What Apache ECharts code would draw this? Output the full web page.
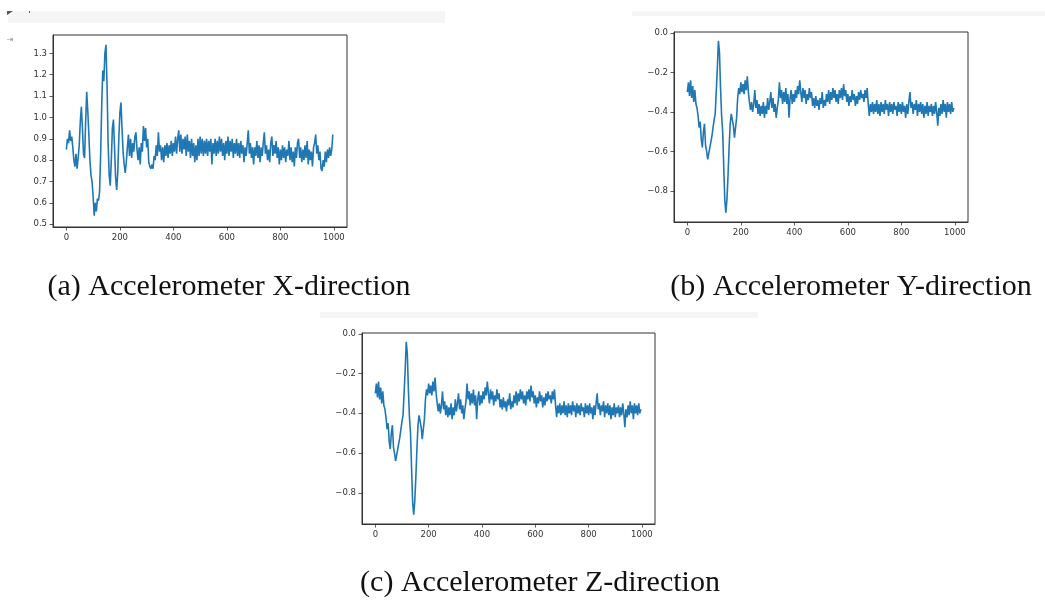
<!DOCTYPE html>
<html>
<head>
<meta charset="utf-8">
<script src="https://cdn.jsdelivr.net/npm/echarts@6/dist/echarts.min.js"></script>
<style>
html,body{margin:0;padding:0;background:#fff;}
#chart{width:1045px;height:603px;}
</style>
</head>
<body>
<div id="chart"></div>
<script>
// ---- data (one value every 4 samples) ----
const SAMPLE_STEP = 4;
const xTickLabels = [0, 200, 400, 600, 800, 1000];
const accXTickLabels = [0.5, 0.6, 0.7, 0.8, 0.9, 1.0, 1.1, 1.2, 1.3];
const accYTickLabels = [0.0, -0.2, -0.4, -0.6, -0.8];
const captions = ['(a) Accelerometer X-direction', '(b) Accelerometer Y-direction', '(c) Accelerometer Z-direction'];

const accX = [
 0.85,0.90,0.88,0.94,0.89,0.91,0.86,0.80,0.77,0.83,
 0.76,0.81,0.87,0.98,1.05,0.95,0.83,0.81,0.98,1.12,
 1.03,0.92,0.80,0.73,0.70,0.63,0.54,0.60,0.56,0.62,
 0.61,0.65,0.82,1.05,1.22,1.17,1.30,1.34,1.15,0.88,
 0.73,0.68,0.80,0.95,0.99,0.86,0.72,0.66,0.74,0.90,
 1.02,1.07,0.95,0.84,0.78,0.74,0.79,0.86,0.92,0.82,
 0.90,0.81,0.88,0.84,0.91,0.93,0.85,0.80,0.86,0.78,
 0.88,0.84,0.96,0.89,0.95,0.86,0.90,0.79,0.77,0.76,
 0.78,0.76,0.82,0.80,0.87,0.82,0.93,0.84,0.87,0.80,
 0.86,0.79,0.87,0.82,0.88,0.81,0.87,0.83,0.89,0.82,
 0.88,0.84,0.91,0.83,0.90,0.94,0.84,0.92,0.83,0.90,
 0.85,0.91,0.82,0.92,0.84,0.89,0.81,0.90,0.82,0.88,
 0.79,0.87,0.80,0.90,0.82,0.91,0.83,0.90,0.82,0.89,
 0.83,0.90,0.82,0.89,0.84,0.90,0.78,0.88,0.83,0.90,
 0.82,0.89,0.83,0.91,0.84,0.90,0.82,0.88,0.80,0.89,
 0.83,0.91,0.82,0.89,0.84,0.90,0.81,0.88,0.83,0.90,
 0.82,0.88,0.81,0.89,0.83,0.87,0.79,0.86,0.82,0.88,
 0.94,0.83,0.88,0.81,0.86,0.78,0.86,0.82,0.89,0.81,
 0.87,0.79,0.86,0.82,0.88,0.93,0.83,0.87,0.80,0.85,
 0.79,0.88,0.91,0.82,0.87,0.83,0.89,0.81,0.86,0.78,
 0.85,0.80,0.87,0.81,0.86,0.79,0.85,0.82,0.89,0.80,
 0.86,0.79,0.84,0.77,0.86,0.81,0.88,0.90,0.81,0.86,
 0.79,0.85,0.80,0.87,0.81,0.89,0.78,0.85,0.80,0.84,
 0.77,0.86,0.88,0.92,0.83,0.87,0.80,0.84,0.76,0.75,
 0.80,0.77,0.84,0.79,0.85,0.81,0.86,0.82,0.85,0.92
];

const accY = [
 -0.30,-0.25,-0.32,-0.24,-0.33,-0.27,-0.35,-0.29,-0.36,-0.38,
 -0.42,-0.48,-0.45,-0.54,-0.58,-0.50,-0.46,-0.57,-0.60,-0.64,
 -0.61,-0.58,-0.55,-0.52,-0.48,-0.44,-0.41,-0.40,-0.18,-0.04,
 -0.10,-0.28,-0.42,-0.50,-0.68,-0.85,-0.91,-0.84,-0.72,-0.58,
 -0.46,-0.41,-0.40,-0.47,-0.53,-0.52,-0.43,-0.33,-0.28,-0.31,
 -0.25,-0.30,-0.26,-0.31,-0.24,-0.29,-0.22,-0.30,-0.35,-0.39,
 -0.35,-0.40,-0.36,-0.29,-0.38,-0.34,-0.41,-0.36,-0.42,-0.37,
 -0.41,-0.35,-0.43,-0.37,-0.41,-0.33,-0.39,-0.35,-0.30,-0.38,
 -0.33,-0.40,-0.36,-0.43,-0.38,-0.34,-0.25,-0.33,-0.29,-0.36,
 -0.30,-0.35,-0.28,-0.36,-0.31,-0.43,-0.33,-0.29,-0.36,-0.31,
 -0.35,-0.29,-0.33,-0.27,-0.31,-0.24,-0.30,-0.35,-0.28,-0.33,
 -0.29,-0.36,-0.31,-0.34,-0.28,-0.33,-0.30,-0.37,-0.33,-0.38,
 -0.32,-0.37,-0.34,-0.39,-0.33,-0.36,-0.30,-0.38,-0.34,-0.37,
 -0.31,-0.35,-0.29,-0.36,-0.30,-0.34,-0.28,-0.33,-0.29,-0.35,
 -0.31,-0.36,-0.29,-0.33,-0.28,-0.34,-0.26,-0.32,-0.29,-0.35,
 -0.31,-0.37,-0.32,-0.35,-0.29,-0.34,-0.31,-0.37,-0.32,-0.36,
 -0.30,-0.34,-0.29,-0.33,-0.31,-0.35,-0.29,-0.33,-0.28,-0.36,
 -0.42,-0.36,-0.40,-0.35,-0.41,-0.36,-0.40,-0.34,-0.41,-0.36,
 -0.42,-0.35,-0.40,-0.36,-0.41,-0.34,-0.39,-0.36,-0.42,-0.35,
 -0.40,-0.36,-0.41,-0.35,-0.39,-0.37,-0.42,-0.35,-0.40,-0.36,
 -0.41,-0.35,-0.40,-0.37,-0.43,-0.36,-0.41,-0.35,-0.30,-0.38,
 -0.35,-0.41,-0.36,-0.39,-0.34,-0.42,-0.36,-0.40,-0.35,-0.41,
 -0.36,-0.43,-0.37,-0.41,-0.35,-0.42,-0.37,-0.40,-0.36,-0.42,
 -0.37,-0.41,-0.35,-0.40,-0.47,-0.38,-0.42,-0.36,-0.41,-0.34,
 -0.40,-0.36,-0.43,-0.35,-0.40,-0.36,-0.41,-0.35,-0.40,-0.38
];

// Z panel in the reference shows the same trace as the Y panel
const accZ = accY;

// ---- chart ----
const LINE = '#1f77b4';
const INK = '#333';
const toPairs = arr => arr.map((v, i) => [i * SAMPLE_STEP, v]);
const fmtY = v => (v < 0 ? '\u2212' + Math.abs(v).toFixed(1) : v.toFixed(1));

const grids = [
  {left: 53, top: 35, width: 294, height: 192},
  {left: 674, top: 32, width: 294, height: 190},
  {left: 362, top: 333, width: 293, height: 191}
].map(g => Object.assign({show: true, borderColor: INK, borderWidth: 1, backgroundColor: '#fff', containLabel: false}, g));

const axisCommon = {
  axisLine: {show: true, onZero: false, lineStyle: {color: INK, width: 1}},
  axisTick: {show: true, inside: false, length: 3.5, lineStyle: {color: INK, width: 0.8}},
  splitLine: {show: false},
};
const labelCommon = {color: INK, fontSize: 8.5, fontFamily: 'DejaVu Sans'};

const xAxes = [0, 1, 2].map(i => Object.assign({}, axisCommon, {
  gridIndex: i, type: 'value', min: -50, max: 1049, position: 'bottom',
  axisTick: Object.assign({}, axisCommon.axisTick, {customValues: xTickLabels}),
  axisLabel: Object.assign({}, labelCommon, {margin: 6, customValues: xTickLabels, formatter: v => String(v)})
}));

const yRanges = [[0.487, 1.386], [-0.957, 0.004], [-0.957, 0.004]];
const yTicks = [accXTickLabels, accYTickLabels, accYTickLabels];
const yAxes = [0, 1, 2].map(i => Object.assign({}, axisCommon, {
  gridIndex: i, type: 'value', min: yRanges[i][0], max: yRanges[i][1], position: 'left',
  axisTick: Object.assign({}, axisCommon.axisTick, {customValues: yTicks[i]}),
  axisLabel: Object.assign({}, labelCommon, {margin: 6, customValues: yTicks[i], formatter: fmtY})
}));

const seriesData = [accX, accY, accZ];
const series = seriesData.map((arr, i) => ({
  type: 'line', xAxisIndex: i, yAxisIndex: i, data: toPairs(arr),
  showSymbol: false, symbol: 'none', animation: false,
  lineStyle: {color: LINE, width: 1.6}
}));

const captionPos = [[229, 287], [851, 287], [540, 583]];
const graphics = [
  {type: 'rect', shape: {x: 8, y: 11, width: 437, height: 12}, style: {fill: '#f5f5f5'}, silent: true},
  {type: 'rect', shape: {x: 632, y: 11, width: 413, height: 5}, style: {fill: '#f5f5f5'}, silent: true},
  {type: 'rect', shape: {x: 320, y: 312, width: 438, height: 6}, style: {fill: '#f5f5f5'}, silent: true},
  {type: 'polygon', shape: {points: [[7, 11], [13, 11], [7, 15]]}, style: {fill: '#555'}, silent: true},
  {type: 'rect', shape: {x: 29, y: 11, width: 1, height: 2}, style: {fill: '#666'}, silent: true},
  {type: 'text', style: {x: 10, y: 40, text: '\u21e5', fill: '#999', font: '8px DejaVu Sans', align: 'center', verticalAlign: 'middle'}, silent: true}
].concat(captions.map((t, i) => ({
  type: 'text', silent: true,
  style: {
    x: captionPos[i][0], y: captionPos[i][1], text: t,
    fill: '#111', font: '30px "Liberation Serif"', align: 'center', verticalAlign: 'middle'
  }
})));

const chart = echarts.init(document.getElementById('chart'), null, {renderer: 'canvas'});
chart.setOption({
  backgroundColor: '#fff',
  animation: false,
  grid: grids,
  xAxis: xAxes,
  yAxis: yAxes,
  series: series,
  graphic: graphics
});
</script>
</body>
</html>
